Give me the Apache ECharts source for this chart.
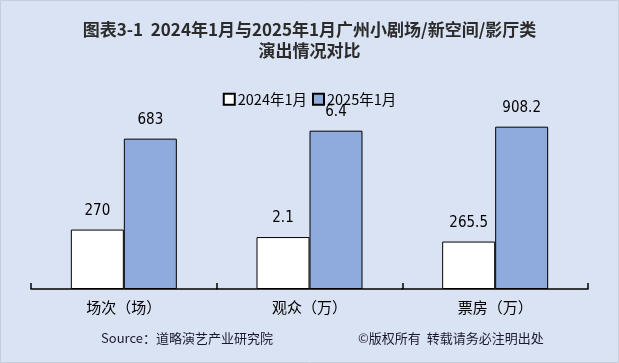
<!DOCTYPE html>
<html>
<head>
<meta charset="utf-8">
<script src="https://cdn.jsdelivr.net/npm/echarts@6/dist/echarts.min.js"></script>
<style>
html,body{margin:0;padding:0;background:#dae3f3;}
#chart{width:619px;height:363px;}
</style>
</head>
<body>
<div id="chart"></div>
<script>
const categories = ['场次（场）', '观众（万）', '票房（万）'];
const seriesNames = ['2024年1月', '2025年1月'];
const values2024 = [270, 2.1, 265.5];
const values2025 = [683, 6.4, 908.2];

const chart = echarts.init(document.getElementById('chart'), null, {renderer: 'canvas'});

const cjk = '"Noto Sans CJK SC", "Noto Sans", sans-serif';
const numFont = '"Liberation Sans Narrow", "DejaVu Sans Condensed", "Noto Sans", sans-serif';
const axisMax = [858.6, 7.64, 1057.5];
const axisLeft = 31, axisRight = 588, baseY = 289, topY = 100;
const catW = (axisRight - axisLeft) / categories.length;

const grids = [], xAxes = [], yAxes = [], series = [];
categories.forEach((cat, i) => {
  grids.push({left: axisLeft + i * catW, width: catW, top: topY, height: baseY - topY});
  xAxes.push({
    type: 'category', gridIndex: i, data: [cat],
    axisLine: {show: true, lineStyle: {color: '#000', width: 1.5}},
    axisTick: {show: true, inside: true, length: 6, lineStyle: {color: '#000', width: 1.5}},
    axisLabel: {color: '#000', fontSize: 15, fontFamily: cjk, margin: 11}
  });
  yAxes.push({type: 'value', gridIndex: i, min: 0, max: axisMax[i], show: false, splitLine: {show: false}});
  [values2024, values2025].forEach((vals, s) => {
    series.push({
      name: seriesNames[s], type: 'bar', xAxisIndex: i, yAxisIndex: i,
      data: [vals[i]], barWidth: 53, barGap: '0%',
      itemStyle: {color: s === 0 ? '#ffffff' : '#8faadc', borderColor: '#000', borderWidth: 1},
      label: {show: true, position: 'top', distance: 11, color: '#000', fontSize: 15, fontFamily: numFont},
      emphasis: {disabled: true}
    });
  });
});

chart.setOption({
  backgroundColor: '#dae3f3',
  animation: false,
  title: {
    text: '图表3-1  2024年1月与2025年1月广州小剧场/新空间/影厅类\n演出情况对比',
    left: 'center', top: 14,
    textStyle: {fontSize: 17, fontWeight: 'bold', color: '#2b2b2b', fontFamily: cjk, lineHeight: 21}
  },
  legend: {
    data: seriesNames, top: 87, left: 'center',
    icon: 'rect', itemWidth: 11, itemHeight: 11, itemGap: 5,
    textStyle: {fontSize: 14.5, color: '#000', fontFamily: cjk, padding: [0, 0, 0, -2]}
  },
  grid: grids, xAxis: xAxes, yAxis: yAxes, series: series,
  graphic: [
    {type: 'text', left: 101, top: 332, style: {text: 'Source：道略演艺产业研究院', fontSize: 13, fill: '#1a1a2e', fontFamily: cjk}},
    {type: 'text', left: 358, top: 332, style: {text: '©版权所有  转载请务必注明出处', fontSize: 13, fill: '#1a1a2e', fontFamily: cjk}},
    {type: 'rect', shape: {x: 0.5, y: 0.5, width: 618, height: 362}, style: {fill: 'none', stroke: '#c5cedd', lineWidth: 1}, silent: true}
  ]
});
</script>
</body>
</html>
